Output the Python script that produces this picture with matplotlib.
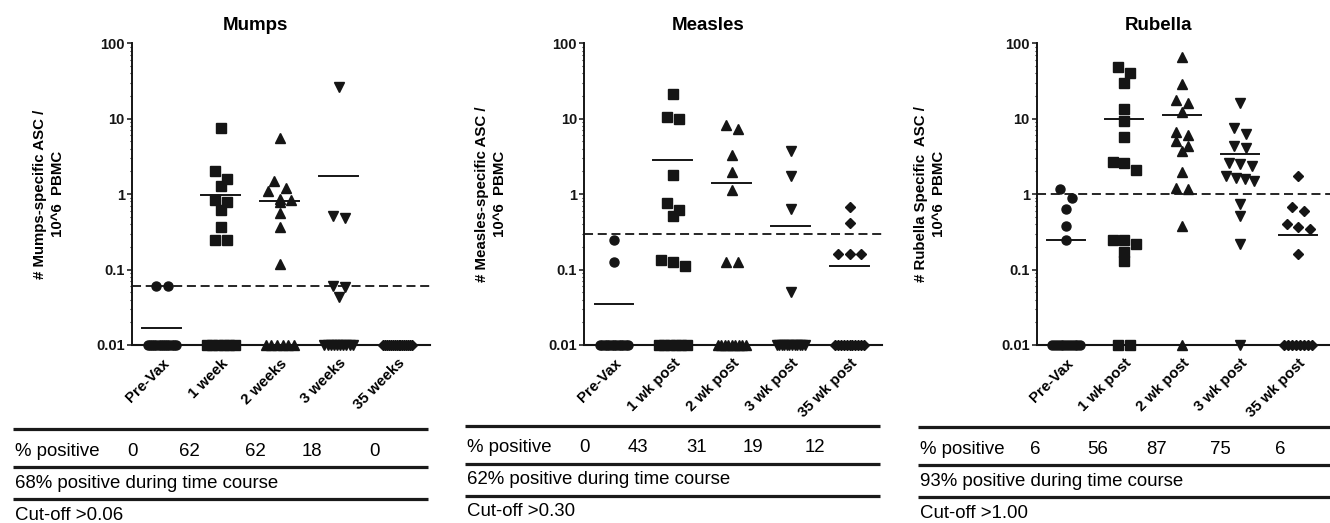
import numpy as np
import matplotlib
matplotlib.use("Agg")
import matplotlib.pyplot as plt
from matplotlib.lines import Line2D
from matplotlib.ticker import LogLocator, FixedLocator, NullFormatter

plt.rcParams['font.family'] = ['Liberation Sans', 'DejaVu Sans']

W, H = 1330, 523

# ---- data (0 = below detection, drawn on the axis floor) ----
titles = ["Mumps", "Measles", "Rubella"]
ylabels = ["# Mumps-specific ASC /\n10^6  PBMC",
           "# Measles-specific ASC /\n10^6  PBMC",
           "# Rubella Specific  ASC /\n10^6  PBMC"]
mumps_cats = ["Pre-Vax", "1 week", "2 weeks", "3 weeks", "35 weeks"]
post_cats = ["Pre-Vax", "1 wk post", "2 wk post", "3 wk post", "35 wk post"]

mumps_pre = [0.061, 0.060, 0, 0, 0, 0, 0, 0, 0, 0, 0, 0, 0, 0, 0, 0]
mumps_1wk = [7.5, 2.0, 1.6, 1.3, 0.84, 0.78, 0.61, 0.37, 0.25, 0.25, 0, 0, 0, 0, 0, 0]
mumps_2wk = [5.5, 1.5, 1.2, 1.1, 0.86, 0.84, 0.78, 0.56, 0.37, 0.12, 0, 0, 0, 0, 0, 0]
mumps_3wk = [26, 0.52, 0.48, 0.06, 0.058, 0.043, 0, 0, 0, 0, 0, 0, 0, 0, 0, 0]
mumps_35wk = [0, 0, 0, 0, 0, 0, 0, 0, 0, 0, 0, 0, 0, 0, 0, 0]
mumps_means = [0.017, 0.98, 0.82, 1.72, 0.01]

measles_pre = [0.25, 0.125, 0, 0, 0, 0, 0, 0, 0, 0, 0, 0, 0, 0, 0]
measles_1wk = [21.5, 10.4, 10.0, 1.77, 0.76, 0.61, 0.51, 0.134, 0.125, 0.11, 0, 0, 0, 0, 0, 0]
measles_2wk = [8.3, 7.3, 3.3, 1.94, 1.12, 0.125, 0.125, 0, 0, 0, 0, 0, 0, 0, 0, 0]
measles_3wk = [3.7, 1.75, 0.63, 0.051, 0, 0, 0, 0, 0, 0, 0, 0, 0, 0, 0, 0]
measles_35wk = [0.67, 0.41, 0.16, 0.16, 0.16, 0, 0, 0, 0, 0, 0, 0, 0, 0, 0, 0]
measles_means = [0.035, 2.86, 1.40, 0.38, 0.112]

rubella_pre = [1.16, 0.90, 0.64, 0.38, 0.25, 0, 0, 0, 0, 0, 0, 0, 0, 0, 0, 0]
rubella_1wk = [48.5, 41, 30, 13.6, 9.2, 5.8, 2.65, 2.6, 2.06, 0.25, 0.25, 0.217, 0.17, 0.128, 0, 0]
rubella_2wk = [66, 29, 17.9, 16.1, 12.1, 6.7, 6.0, 5.0, 4.4, 3.7, 1.94, 1.2, 1.18, 0.38, 0]
rubella_3wk = [16.3, 7.6, 6.2, 4.4, 4.1, 2.6, 2.5, 2.37, 1.75, 1.66, 1.6, 1.5, 0.75, 0.52, 0.22, 0]
rubella_35wk = [1.74, 0.68, 0.60, 0.40, 0.37, 0.34, 0.16, 0, 0, 0, 0, 0, 0, 0, 0]
rubella_means = [0.248, 9.9, 11.3, 3.39, 0.289]

cutoffs = [0.06, 0.30, 1.00]
pct_positive = [[0, 62, 62, 18, 0], [0, 43, 31, 19, 12], [6, 56, 87, 75, 6]]
overall = ["68% positive during time course", "62% positive during time course",
           "93% positive during time course"]
cutoff_text = ["Cut-off >0.06", "Cut-off >0.30", "Cut-off >1.00"]

panels = [
    (mumps_cats, [mumps_pre, mumps_1wk, mumps_2wk, mumps_3wk, mumps_35wk], mumps_means),
    (post_cats, [measles_pre, measles_1wk, measles_2wk, measles_3wk, measles_35wk], measles_means),
    (post_cats, [rubella_pre, rubella_1wk, rubella_2wk, rubella_3wk, rubella_35wk], rubella_means),
]

markers = ["o", "s", "^", "v", "D"]
msizes = [6.5, 6.5, 7, 7, 5.2]
INK = "#151515"
FLOOR = 0.01

# ---- layout (pixels) ----
ax_left = [131.7, 584, 1036.7]
ax_right = [430, 882, 1330]
ax_top, ax_bot = 43.3, 345
ylabel_off = [-67, -77, -91]
tab_left = [13, 465, 918]
tab_right = [428, 880, 1330]
tab_top = [429, 426, 427]
pct_x = [[133, 189, 255, 312, 375], [585, 638, 697, 753, 815], [1035, 1098, 1157, 1220, 1280]]


def spread(vals, step=0.2, max_span=0.48, tol=0.12):
    logs = np.log10(vals)
    order = np.argsort(-logs, kind="stable")
    offs = np.zeros(len(vals))
    groups = []
    for i in order:
        if groups and logs[groups[-1][0]] - logs[i] < tol:
            groups[-1].append(i)
        else:
            groups.append([i])
    for g in groups:
        n = len(g)
        if n > 1:
            d = min(step, max_span / (n - 1))
            offs[g] = (np.arange(n) - (n - 1) / 2) * d
    return offs


def fx(px):
    return px / W


def fy(py):
    return 1 - py / H


fig = plt.figure(figsize=(W / 100, H / 100), dpi=100)

for p, (cats, groups, means) in enumerate(panels):
    ax = fig.add_axes([fx(ax_left[p]), fy(ax_bot), (ax_right[p] - ax_left[p]) / W,
                       (ax_bot - ax_top) / H])
    ax.set_yscale("log")
    ax.set_ylim(0.01, 100)
    ax.set_xlim(-0.51, 4.55)

    for k, vals in enumerate(groups):
        y = np.maximum(np.array(vals, dtype=float), FLOOR)
        x = k + spread(y)
        ax.plot(x, y, linestyle="none", marker=markers[k], ms=msizes[k],
                color=INK, mec=INK, clip_on=False, zorder=3)
        ax.plot([k - 0.33, k + 0.33], [means[k], means[k]], color=INK, lw=1.4, zorder=4)

    ax.axhline(cutoffs[p], color=INK, lw=1.3, ls=(0, (5, 2.6)), zorder=2)

    for side in ["top", "right"]:
        ax.spines[side].set_visible(False)
    ax.spines["left"].set_linewidth(1.4)
    ax.spines["bottom"].set_linewidth(1.5)
    ax.spines["left"].set_color(INK)
    ax.spines["bottom"].set_color(INK)

    ax.yaxis.set_major_locator(FixedLocator([0.01, 0.1, 1, 10, 100]))
    ax.set_yticklabels(["0.01", "0.1", "1", "10", "100"], fontweight="bold", fontsize=10.5)
    ax.yaxis.set_minor_locator(LogLocator(base=10, subs=np.arange(2, 10)))
    ax.yaxis.set_minor_formatter(NullFormatter())
    ax.tick_params(axis="y", which="major", length=3.5, width=1.1, pad=1.5, colors=INK)
    ax.tick_params(axis="y", which="minor", length=1.8, width=0.8, colors=INK)

    ax.set_xticks(range(len(cats)))
    ax.set_xticklabels(cats, rotation=45, ha="right", va="top", rotation_mode="anchor",
                       fontweight="bold", fontsize=10.8)
    ax.tick_params(axis="x", length=0, pad=8)

    ax.set_ylabel(ylabels[p], fontweight="bold", fontsize=10.8, linespacing=1.35)
    ax.yaxis.set_label_coords(ylabel_off[p] / (ax_right[p] - ax_left[p]), 0.5)

    ax.text(0.415, 1.06, titles[p], transform=ax.transAxes, ha="center", va="center",
            fontweight="bold", fontsize=13.5)

    # table underneath
    t = tab_top[p]
    for dy in [0, 38, 70]:
        fig.add_artist(Line2D([fx(tab_left[p]), fx(tab_right[p])], [fy(t + dy), fy(t + dy)],
                              color="#1a1a1a", lw=2.3, solid_capstyle="butt"))
    fig.text(fx(tab_left[p] + 2), fy(t + 22), "% positive", ha="left", va="center", fontsize=13.4)
    for xv, v in zip(pct_x[p], pct_positive[p]):
        fig.text(fx(xv), fy(t + 22), str(v), ha="center", va="center", fontsize=13.4)
    fig.text(fx(tab_left[p] + 2), fy(t + 54), overall[p], ha="left", va="center", fontsize=13.4)
    fig.text(fx(tab_left[p] + 2), fy(t + 86), cutoff_text[p], ha="left", va="center", fontsize=13.4)

fig.savefig("out.png", dpi=100)
